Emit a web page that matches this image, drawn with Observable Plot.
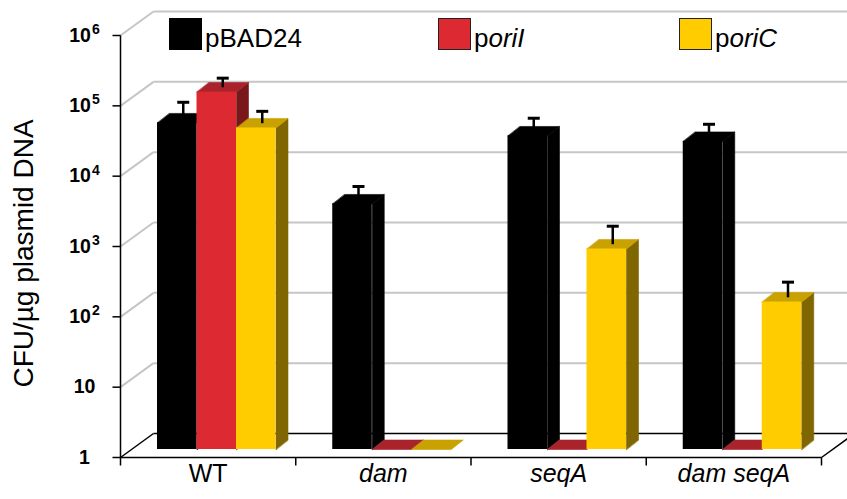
<!DOCTYPE html>
<html>
<head>
<meta charset="utf-8">
<script src="https://cdn.jsdelivr.net/npm/d3@7"></script>
<script src="https://cdn.jsdelivr.net/npm/@observablehq/plot@0.6"></script>
<style>
  body { margin: 0; background: #fff; font-family: "Liberation Sans", Arial, Helvetica, sans-serif; }
  #wrap { position: relative; width: 847px; height: 499px; overflow: hidden; }
  .sw { position: absolute; top: 18px; width: 33px; height: 32px; box-sizing: border-box; }
  .lt { position: absolute; top: 25px; font-size: 26px; line-height: 26px; color: #000; white-space: nowrap; }
</style>
</head>
<body>
<div id="wrap"></div>
<script>
// ---------- data ----------
const categories = ["WT", "dam", "seqA", "dam seqA"];
const series = ["pBAD24", "poriI", "poriC"];
const pBAD24 = [4.4e4, 3.1e3, 2.87e4, 2.4e4];
const poriI = [1.21e5, 1, 1, 1];
const poriC = [3.73e4, 1, 710, 125];
const pBAD24Err = [7.4e4, 4.7e3, 4.39e4, 3.6e4];
const poriIErr = [1.63e5, null, null, null];
const poriCErr = [5.5e4, null, 1.28e3, 205];
const yTicks = [1, 10, 100, 1e3, 1e4, 1e5, 1e6];
const yTickLabels = ["1", "10", "10²", "10³", "10⁴", "10⁵", "10⁶"];
const yLabel = "CFU/µg plasmid DNA";

// ---------- styles ----------
const frontColors = ["#000000", "#dd2a32", "#ffcc00"];
const topColors = ["#000000", "#a8232a", "#c9a100"];
const sideColors = ["#000000", "#7a171b", "#806600"];

// ---------- geometry helpers ----------
const W = 847, H = 499, ML = 120, MR = 26, MT = 35, MB = 42;
const PX = (W - ML - MR) / categories.length;       // px per category unit
const PY = (H - MT - MB) / (yTicks.length - 1);     // px per decade
const ox = px => px / PX;                           // px -> x units
const lift = (v, px) => v * Math.pow(10, px / PY);  // raise a value by px on log scale
const DX = 33, DY = 24;        // wall depth
const BASE = 8, BDX = 12, BDY = 9.5; // bar plane & bar depth
const XR = (W - ML) / PX;      // right edge in x units
const BAR0 = ox(37), BW = ox(39.5);

const values = [pBAD24, poriI, poriC];
const errs = [pBAD24Err, poriIErr, poriCErr];

const faces = [], fronts = [], errBars = [];
categories.forEach((c, i) => {
  series.forEach((s, j) => {
    const v = values[j][i];
    const x1 = i + BAR0 + j * BW, x2 = x1 + BW;
    const yb = lift(1, BASE), yt = lift(v, BASE), ytb = lift(v, BASE + BDY), ybb = lift(1, BASE + BDY);
    const d = ox(BDX);
    if (v > 1) {
      const id = `side-${i}-${j}`;
      [[x2, yb], [x2, yt], [x2 + d, ytb], [x2 + d, ybb]].forEach(([x, y]) => faces.push({id, x, y, fill: sideColors[j]}));
    }
    const tid = `top-${i}-${j}`;
    [[x1, yt], [x2, yt], [x2 + d, ytb], [x1 + d, ytb]].forEach(([x, y]) => faces.push({id: tid, x, y, fill: topColors[j]}));
    if (v > 1) fronts.push({x1, x2, y1: yb, y2: yt, fill: frontColors[j]});
    const e = errs[j][i];
    if (e != null) {
      const xc = (x1 + x2) / 2 + ox(6);
      errBars.push({x: xc, cx1: xc - ox(6), cx2: xc + ox(6), ylo: lift(v, BASE + BDY / 2), yhi: lift(e, BASE + BDY / 2)});
    }
  });
});

const gridTicks = yTicks.slice(1);
const catTicks = categories.map((c, i) => i + 1);

const chart = Plot.plot({
  width: W, height: H,
  marginLeft: ML, marginRight: MR, marginTop: MT, marginBottom: MB,
  style: {fontFamily: '"Liberation Sans", Arial, Helvetica, sans-serif', background: "white", overflow: "visible"},
  x: {type: "linear", domain: [0, categories.length], axis: null},
  y: {type: "log", domain: [1, 1e6], axis: null},
  color: {type: "identity"},
  marks: [
    // back wall gridlines
    Plot.link(gridTicks, {x1: () => 0, y1: d => d, x2: () => ox(DX), y2: d => lift(d, DY), stroke: "#c6c6c6", strokeWidth: 2}),
    Plot.link(gridTicks, {x1: () => ox(DX), y1: d => lift(d, DY), x2: () => XR, y2: d => lift(d, DY), stroke: "#c6c6c6", strokeWidth: 2}),
    // floor
    Plot.link([1], {x1: () => 0, y1: d => d, x2: () => ox(DX), y2: d => lift(d, DY), stroke: "#000", strokeWidth: 1.5}),
    Plot.link([1], {x1: () => ox(DX), y1: d => lift(d, DY), x2: () => XR, y2: d => lift(d, DY), stroke: "#000", strokeWidth: 1.5}),
    Plot.link([1], {x1: () => categories.length, y1: d => d, x2: () => categories.length + ox(DX), y2: d => lift(d, DY), stroke: "#000", strokeWidth: 1.5}),
    Plot.link([1], {x1: () => 0, y1: d => d, x2: () => categories.length, y2: d => d, stroke: "#000", strokeWidth: 1.5}),
    // bar top & side faces
    Plot.line(faces, {x: "x", y: "y", z: "id", fill: "fill", stroke: "fill", strokeWidth: 0.6, curve: "linear-closed"}),
    // bar front faces
    Plot.rect(fronts, {x1: "x1", x2: "x2", y1: "y1", y2: "y2", fill: "fill"}),
    // error bars
    Plot.link(errBars, {x1: "x", x2: "x", y1: "ylo", y2: "yhi", stroke: "#000", strokeWidth: 2.5}),
    Plot.link(errBars, {x1: "cx1", x2: "cx2", y1: "yhi", y2: "yhi", stroke: "#000", strokeWidth: 3}),
    // y axis line and ticks
    Plot.link([1], {x1: () => 0, x2: () => 0, y1: d => lift(d, -8), y2: () => 1e6, stroke: "#000", strokeWidth: 1.5}),
    Plot.link(yTicks, {x1: () => -ox(8), x2: () => 0, y1: d => d, y2: d => d, stroke: "#000", strokeWidth: 1.5}),
    // category ticks
    Plot.link(catTicks, {x1: d => d, x2: d => d, y1: () => 1, y2: () => lift(1, -8), stroke: "#000", strokeWidth: 1.5}),
    // y tick labels
    Plot.text(yTicks, {x: () => 0, y: d => d, text: (d, i) => yTickLabels[i], dx: -36, textAnchor: "middle", fontWeight: "bold", fontSize: 19.5, fill: "#000"}),
    // category labels
    Plot.text(categories.filter(c => c === "WT"), {x: c => categories.indexOf(c) + 0.5, y: () => 1, text: d => d, dy: 16, fontSize: 25, fill: "#000"}),
    Plot.text(categories.filter(c => c !== "WT"), {x: c => categories.indexOf(c) + 0.5, y: () => 1, text: d => d, dy: 16, fontSize: 25, fontStyle: "italic", fill: "#000"}),
    // y label
    Plot.text([yLabel], {frameAnchor: "left", textAnchor: "middle", text: d => d, rotate: -90, dx: -96, dy: 7, fontSize: 28, fill: "#000"})
  ]
});

// superscripts as tspans
const supMap = {"⁰":"0","¹":"1","²":"2","³":"3","⁴":"4","⁵":"5","⁶":"6","⁷":"7","⁸":"8","⁹":"9"};
chart.querySelectorAll("text").forEach(t => {
  const s = t.textContent;
  const m = s.match(/^(\d+)([⁰¹²³⁴⁵⁶⁷⁸⁹]+)$/);
  if (m && t.children.length === 0) {
    t.textContent = m[1];
    const ts = document.createElementNS("http://www.w3.org/2000/svg", "tspan");
    ts.setAttribute("dy", "-0.55em");
    ts.setAttribute("dx", "1");
    ts.setAttribute("font-size", "0.72em");
    ts.textContent = [...m[2]].map(ch => supMap[ch]).join("");
    t.appendChild(ts);
  }
});

const wrap = document.getElementById("wrap");
wrap.appendChild(chart);

// legend
const legendLeft = [169, 438, 679];
series.forEach((s, j) => {
  const sw = document.createElement("div");
  sw.className = "sw";
  sw.style.left = legendLeft[j] + "px";
  sw.style.background = frontColors[j];
  if (j > 0) sw.style.border = "1.5px solid #222";
  wrap.appendChild(sw);
  const lt = document.createElement("div");
  lt.className = "lt";
  lt.style.left = (legendLeft[j] + 36) + "px";
  if (s.startsWith("pori")) {
    lt.appendChild(document.createTextNode("p"));
    const it = document.createElement("i");
    it.textContent = s.slice(1);
    lt.appendChild(it);
  } else {
    lt.textContent = s;
  }
  wrap.appendChild(lt);
});
</script>
</body>
</html>
